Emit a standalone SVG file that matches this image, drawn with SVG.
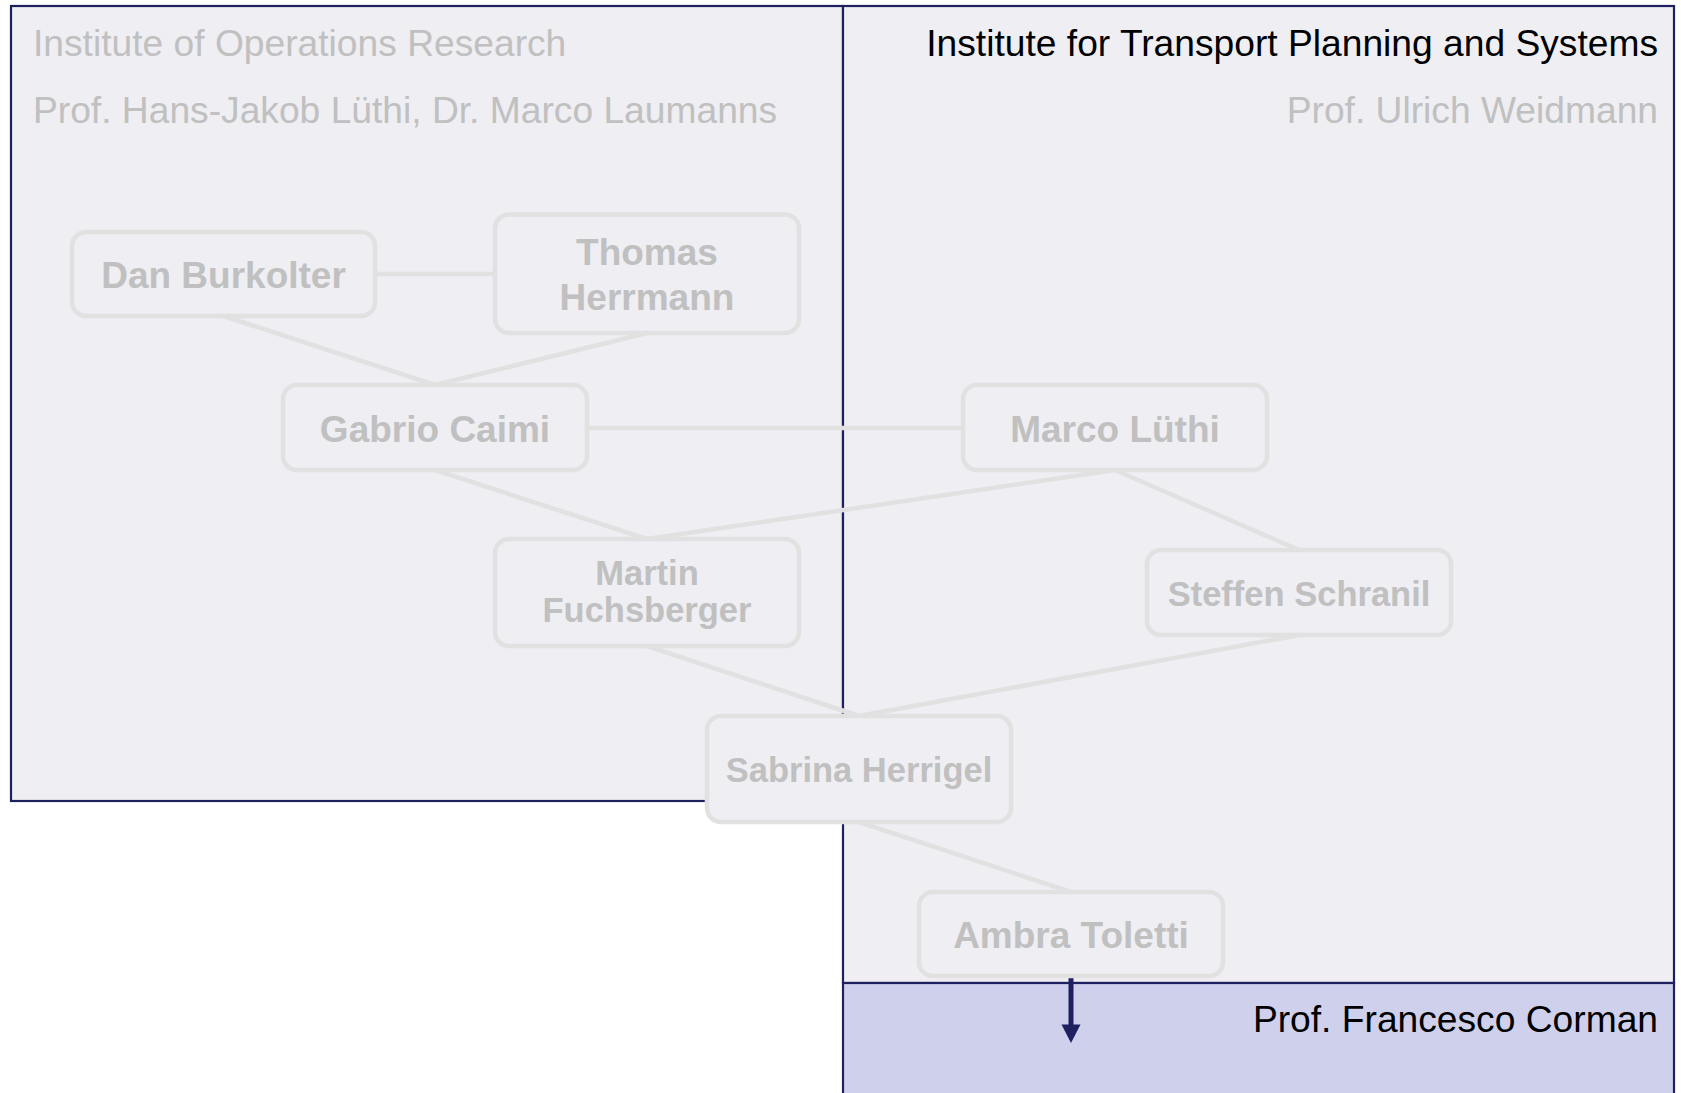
<svg xmlns="http://www.w3.org/2000/svg" width="1681" height="1093" viewBox="0 0 1681 1093">
  <style>
    .region { fill: #eeeef3; stroke: #1f2060; stroke-width: 2.2; }
    .region-sub { fill: #cfd0eb; stroke: #1f2060; stroke-width: 2.2; }
    .title { font-family: "Liberation Sans", Arial, sans-serif; font-size: 37.2px; }
    .dark { fill: #000000; }
    .muted { fill: #c0c0c0; }
    .node rect { fill: #eeeef3; stroke: #e1e1e1; stroke-width: 4.5; }
    .node text { font-family: "Liberation Sans", Arial, sans-serif; font-weight: bold; fill: #c0c0c0; text-anchor: middle; font-size: 37px; }
    .node text.small { font-size: 34.5px; }
    .edge { stroke: #e1e1e1; stroke-width: 4.5; fill: none; }
    .flow { stroke: #1f2060; stroke-width: 5; fill: none; }
    .flow-head { fill: #1f2060; }
  </style>

  <rect width="1681" height="1093" fill="#ffffff"/>

  <!-- institutes -->
  <g id="region-ifor">
    <rect class="region" x="11" y="6" width="832" height="795"/>
    <text class="title muted" x="33" y="56">Institute of Operations Research</text>
    <text class="title muted" x="33" y="122.5">Prof. Hans-Jakob Lüthi, Dr. Marco Laumanns</text>
  </g>
  <g id="region-ivt">
    <rect class="region" x="843" y="6" width="831" height="977"/>
    <text class="title dark" x="1658" y="56" text-anchor="end">Institute for Transport Planning and Systems</text>
    <text class="title muted" x="1658" y="122.5" text-anchor="end">Prof. Ulrich Weidmann</text>
  </g>
  <g id="region-corman">
    <rect class="region-sub" x="843" y="983" width="831" height="130"/>
    <text class="title dark" x="1658" y="1031.5" text-anchor="end">Prof. Francesco Corman</text>
  </g>

  <!-- connectors -->
  <g id="connectors">
    <line class="edge" x1="375" y1="274" x2="495" y2="274"/>
    <line class="edge" x1="223.5" y1="316" x2="435" y2="385"/>
    <line class="edge" x1="647" y1="333" x2="435" y2="385"/>
    <line class="edge" x1="587" y1="428" x2="963" y2="428"/>
    <line class="edge" x1="435" y1="470" x2="647" y2="539"/>
    <line class="edge" x1="1115" y1="470" x2="647" y2="539"/>
    <line class="edge" x1="1115" y1="470" x2="1299" y2="550"/>
    <line class="edge" x1="647" y1="646" x2="859" y2="716"/>
    <line class="edge" x1="1299" y1="635" x2="859" y2="716"/>
    <line class="edge" x1="859" y1="822" x2="1071" y2="892"/>
    <line class="flow" x1="1071" y1="976" x2="1071" y2="1026"/>
    <path class="flow-head" d="M1061.5,1024.5 L1080.5,1024.5 L1071,1043 Z"/>
  </g>

  <!-- people -->
  <g id="node-dan" class="node">
    <rect x="72" y="232" width="303" height="84" rx="14"/>
    <text x="223.5" y="287.5">Dan Burkolter</text>
  </g>
  <g id="node-thomas" class="node">
    <rect x="495" y="214.5" width="304" height="118.5" rx="14"/>
    <text x="647" y="265">Thomas</text>
    <text x="647" y="310">Herrmann</text>
  </g>
  <g id="node-gabrio" class="node">
    <rect x="283" y="385" width="304" height="85" rx="14"/>
    <text x="435" y="441.5">Gabrio Caimi</text>
  </g>
  <g id="node-marco" class="node">
    <rect x="963" y="385" width="304" height="85" rx="14"/>
    <text x="1115" y="441.5">Marco Lüthi</text>
  </g>
  <g id="node-martin" class="node">
    <rect x="495" y="539" width="304" height="107" rx="14"/>
    <text class="small" x="647" y="585">Martin</text>
    <text class="small" x="647" y="622">Fuchsberger</text>
  </g>
  <g id="node-steffen" class="node">
    <rect x="1147" y="550" width="304" height="85" rx="14"/>
    <text class="small" x="1299" y="606">Steffen Schranil</text>
  </g>
  <g id="node-sabrina" class="node">
    <rect x="707" y="716" width="304" height="106" rx="14"/>
    <text class="small" x="859" y="782">Sabrina Herrigel</text>
  </g>
  <g id="node-ambra" class="node">
    <rect x="919" y="892" width="304" height="84" rx="14"/>
    <text x="1071" y="947.5">Ambra Toletti</text>
  </g>
</svg>
